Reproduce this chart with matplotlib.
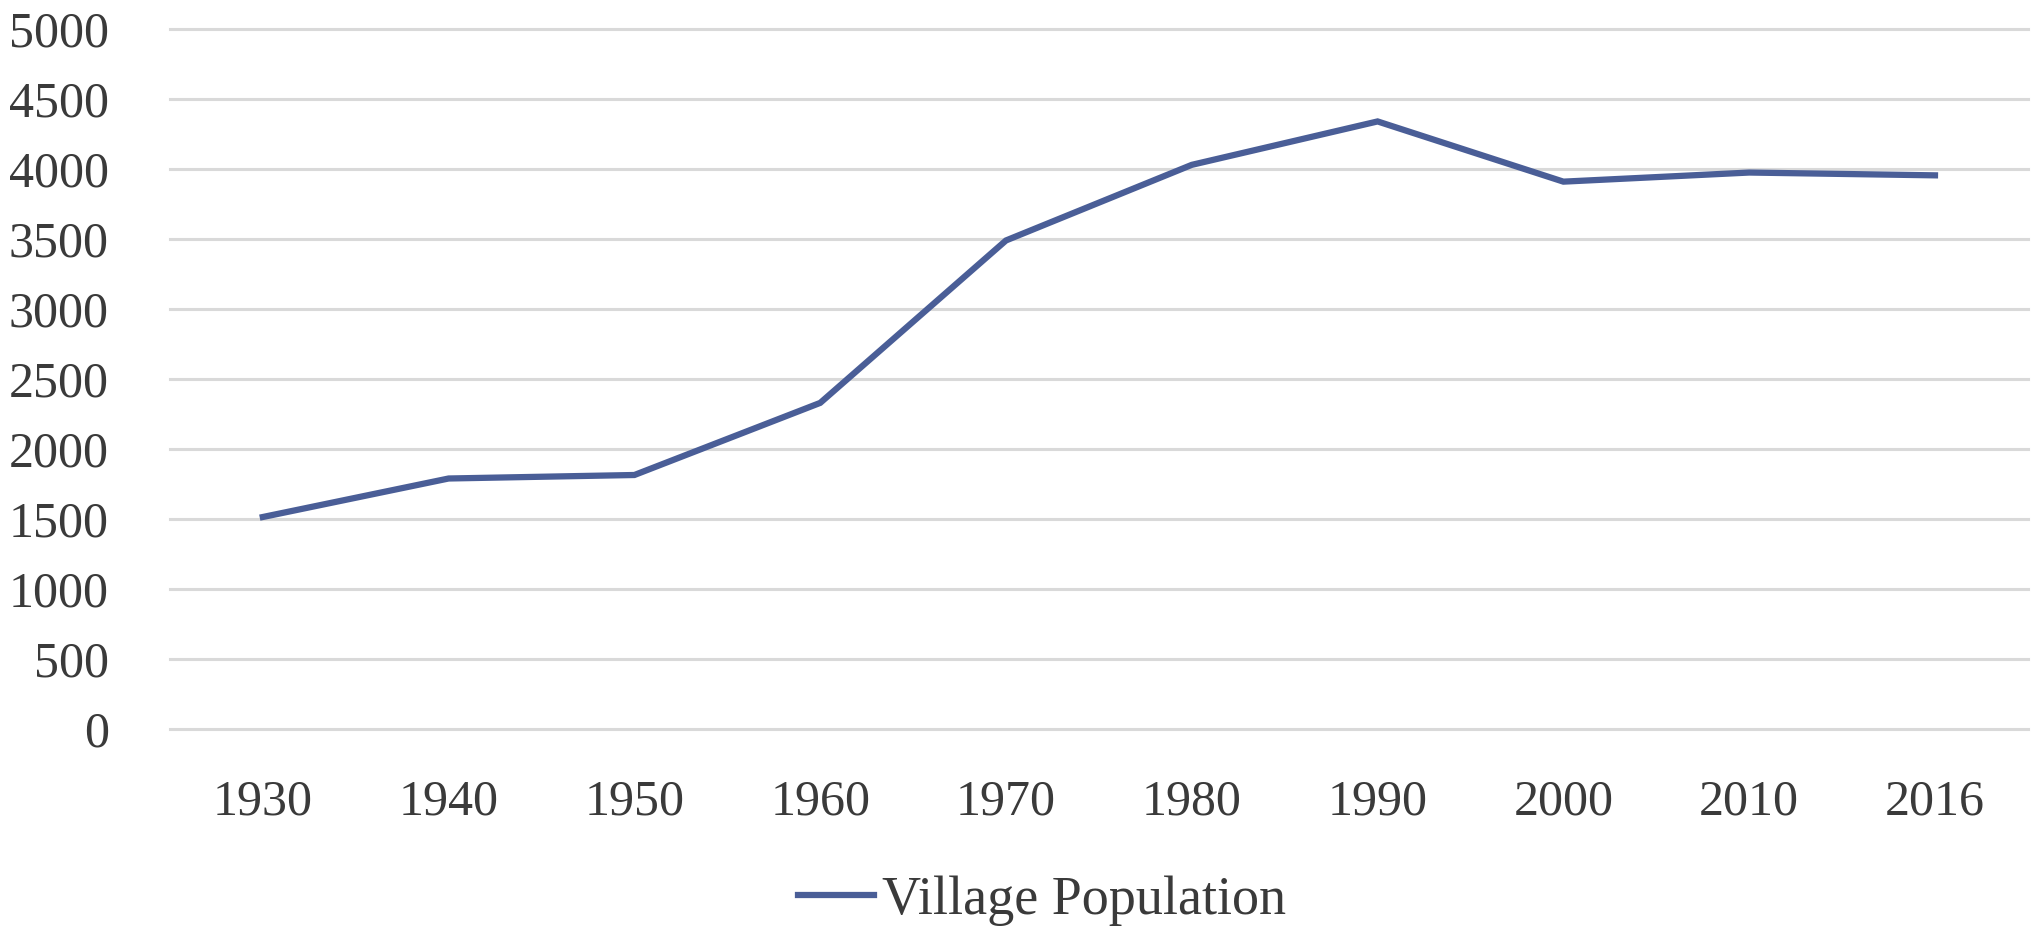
import numpy as np
import matplotlib.pyplot as plt

plt.rcParams['font.family'] = ['Liberation Serif', 'DejaVu Serif']

years = ['1930', '1940', '1950', '1960', '1970', '1980', '1990', '2000', '2010', '2016']
population = [1515, 1790, 1815, 2330, 3490, 4030, 4340, 3910, 3975, 3955]
yticks = [0, 500, 1000, 1500, 2000, 2500, 3000, 3500, 4000, 4500, 5000]

fig = plt.figure(figsize=(20.35, 9.36), dpi=100)
ax = fig.add_axes([0.0835, 0.221, 0.913, 0.748])

x = np.arange(len(years))
ax.plot(x, population, color='#4a5e97', linewidth=4.5, solid_joinstyle='miter',
        label='Village Population')

ax.set_xlim(-0.5, len(years) - 0.5)
ax.set_ylim(0, 5000)
ax.set_xticks(x)
ax.set_xticklabels(years)
ax.set_yticks(yticks)
ax.grid(axis='y', color='#d9d9d9', linewidth=2.2)
ax.set_axisbelow(True)
for gl in ax.get_ygridlines():
    gl.set_clip_on(False)
for s in ax.spines.values():
    s.set_visible(False)
ax.tick_params(axis='both', length=0, labelsize=36, labelcolor='#3a3a3a')
ax.tick_params(axis='y', pad=44)
ax.tick_params(axis='x', pad=36)

fig.legend(loc='center', bbox_to_anchor=(0.512, 0.038), frameon=False,
           fontsize=39, handlelength=1.4, handletextpad=0.15, labelcolor='#3a3a3a')

fig.savefig('out.png', dpi=100, facecolor='white')
